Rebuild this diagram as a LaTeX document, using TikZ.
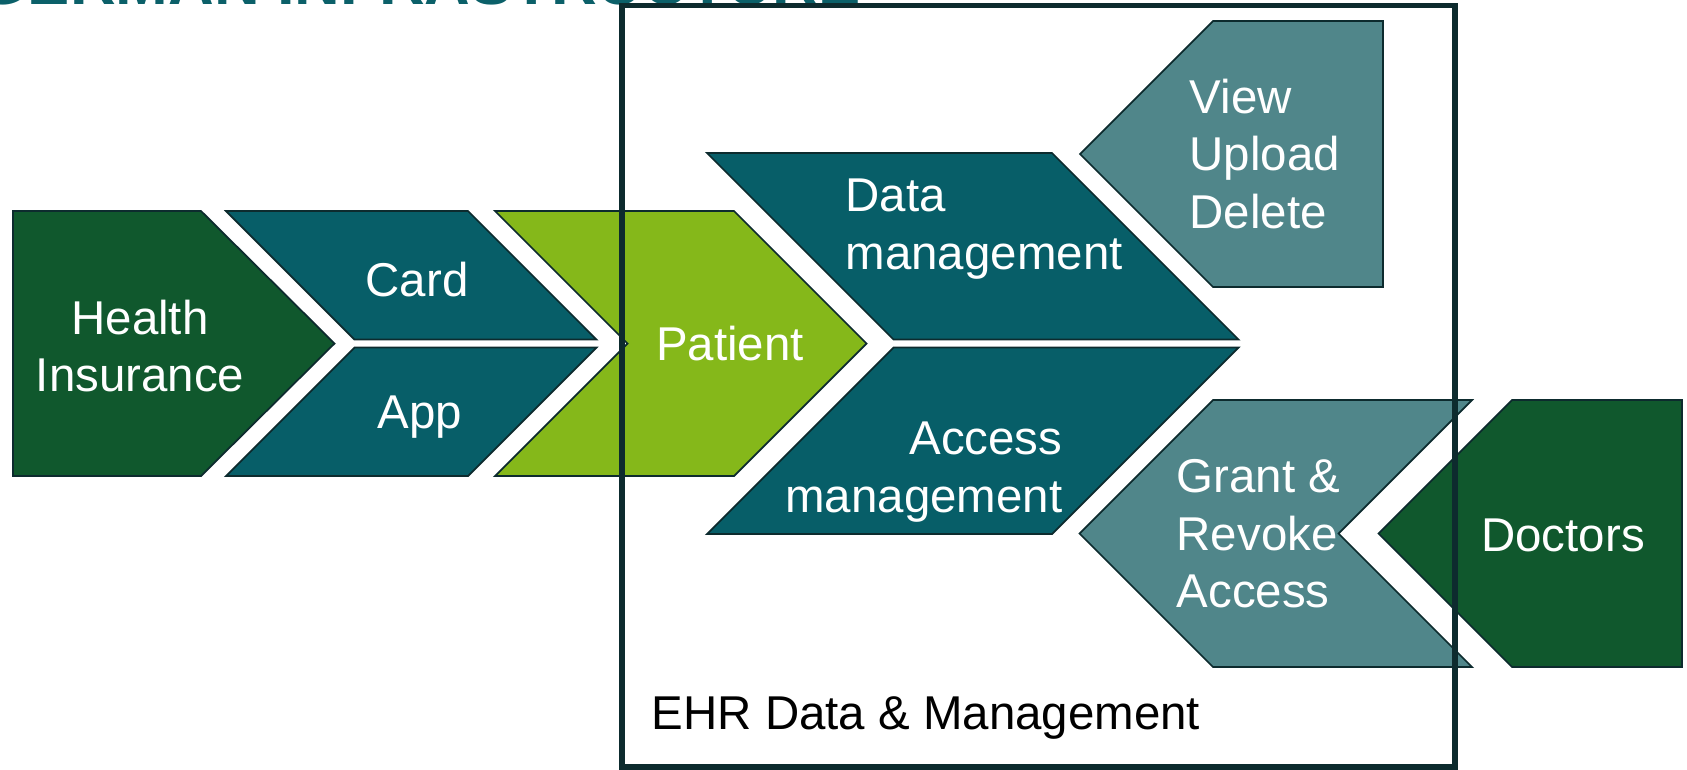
\documentclass[tikz,border=0pt]{standalone}
\usepackage{fontspec}
\setmainfont{Liberation Sans}
\definecolor{insgreen}{HTML}{10582D}
\definecolor{ehrteal}{HTML}{075E68}
\definecolor{patlime}{HTML}{85B81A}
\definecolor{actteal}{HTML}{50868A}
\definecolor{edgeclr}{HTML}{0D2B2E}
\definecolor{titleclr}{HTML}{0B6069}
\tikzset{
	shapeline/.style={draw=edgeclr, line width=0.5pt, line join=miter},
	lbl/.style={text=white, font=\fontsize{13.5}{16.4}\selectfont, inner sep=0pt},
}

\begin{document}
\begin{tikzpicture}[x=0.1mm, y=-0.1mm]

		\useasboundingbox (0,0) rectangle (1687,769);
		\clip (0,0) rectangle (1687,769);

		% title, cut at the top
		\node [anchor=base west, inner sep=0pt, text=titleclr, font=\fontsize{18}{20}\selectfont\bfseries] (title) at (-22,4) {GERMAN INFRASTRUCTURE};

		% left side
		\filldraw [shapeline][fill=insgreen] (13,211) -- (201,211) -- (334.5,343.5) -- (201,476) -- (13,476) -- cycle;
		\filldraw [shapeline][fill=ehrteal] (226,211) -- (468,211) -- (596.5,339.5) -- (354.5,339.5) -- cycle;
		\filldraw [shapeline][fill=ehrteal] (354.5,347.5) -- (596.5,347.5) -- (468,476) -- (226,476) -- cycle;
		\filldraw [shapeline][fill=patlime] (495,211) -- (734,211) -- (866.5,343.5) -- (734,476) -- (495,476) -- (627.5,343.5) -- cycle;

		% EHR
		\filldraw [shapeline][fill=ehrteal] (707,153) -- (1052,153) -- (1238.5,339.5) -- (893.5,339.5) -- cycle;
		\filldraw [shapeline][fill=ehrteal] (893.5,347.5) -- (1238.5,347.5) -- (1052,534) -- (707,534) -- cycle;
		\filldraw [shapeline][fill=actteal] (1080,154) -- (1213,21) -- (1383,21) -- (1383,287) -- (1213,287) -- cycle;
		\filldraw [shapeline][fill=actteal] (1079.5,533.5) -- (1213,400) -- (1472,400) -- (1338.5,533.5) -- (1472,667) -- (1213,667) -- cycle;

		% right side
		\filldraw [shapeline][fill=insgreen] (1378.5,533.5) -- (1512,400) -- (1682,400) -- (1682,667) -- (1512,667) -- cycle;

		\node [lbl, align=center] (health) at (140,346) {Health\\Insurance};
		\node [lbl] (card) at (417,280) {Card};
		\node [lbl] (app) at (420,417) {App};
		\node [lbl] (patient) at (730,344) {Patient};
		\node [lbl, align=left, anchor=west] (datamgmt) at (845,229) {Data\\management};
		\node [lbl, align=right, anchor=east] (accmgmt) at (1063,472) {Access\\management};
		\node [lbl, align=left, anchor=west] (vud) at (1189,154) {View\\Upload\\Delete};
		\node [lbl, align=left, anchor=west] (grant) at (1176,534) {Grant \&\\Revoke\\Access};
		\node [lbl] (doctors) at (1563,535) {Doctors};

		% frame on top
		\draw [line width=1.6pt, draw=edgeclr] (622,5.5) rectangle (1455,767);
		\node [lbl, text=black, anchor=west] (ehrlabel) at (651,718) {EHR Data \& Management};

\end{tikzpicture}
\end{document}
